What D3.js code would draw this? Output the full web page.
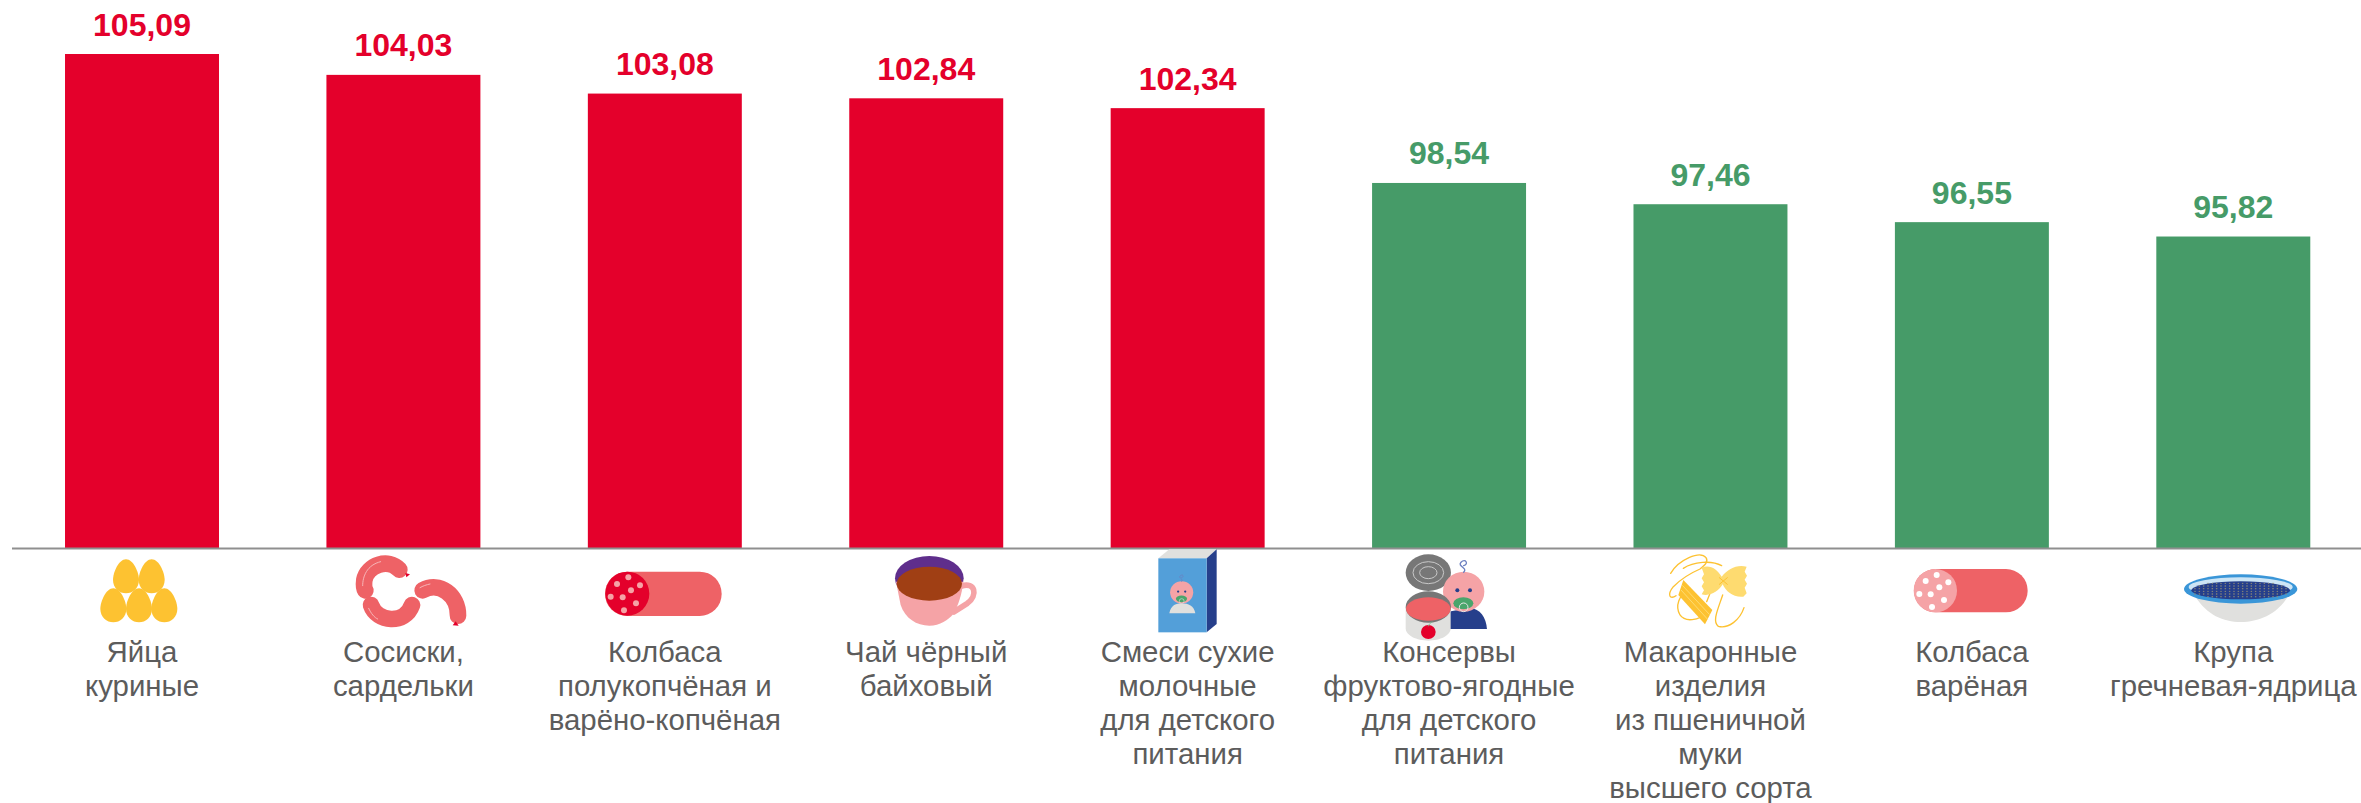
<!DOCTYPE html>
<html>
<head>
<meta charset="utf-8">
<script src="https://cdnjs.cloudflare.com/ajax/libs/d3/7.8.5/d3.min.js"></script>
<style>
html, body { margin: 0; padding: 0; background: #fff; }
svg { display: block; }
text { font-family: "Liberation Sans", Arial, sans-serif; }
</style>
</head>
<body>
<script>
var categories = ["Яйца|куриные", "Сосиски,|сардельки", "Колбаса|полукопчёная и|варёно-копчёная",
    "Чай чёрный|байховый", "Смеси сухие|молочные|для детского|питания",
    "Консервы|фруктово-ягодные|для детского|питания", "Макаронные|изделия|из пшеничной|муки|высшего сорта",
    "Колбаса|варёная", "Крупа|гречневая-ядрица"];
var values = [105.09, 104.03, 103.08, 102.84, 102.34, 98.54, 97.46, 96.55, 95.82];
var valueLabels = ["105,09", "104,03", "103,08", "102,84", "102,34", "98,54", "97,46", "96,55", "95,82"];

var w = 2361;
var h = 803;
var baseline = 548;
var red = "#e4002b", green = "#469b68", pink = "#ee6266", light = "#f5a3a6", grey = "#e0e0de",
    navy = "#263f8b", yellow = "#fdc231", paleYellow = "#fedb70";

var svg = d3.select("body").append("svg").attr("width", w).attr("height", h);

var x = d3.scaleBand().domain(d3.range(values.length)).range([11.3, 2364]).paddingInner(0.411).paddingOuter(0.2055);
var y = d3.scaleLinear().domain([80, 105.09]).range([baseline, 54]);

// bars
svg.selectAll(".bar").data(values).enter().append("rect").attr("class", "bar")
    .attr("x", function (d, i) { return x(i); })
    .attr("y", function (d) { return y(d); })
    .attr("width", x.bandwidth())
    .attr("height", function (d) { return baseline - y(d); })
    .attr("fill", function (d) { return d > 100 ? red : green; });

// axis line only, labels are drawn by hand because they wrap
var xAxis = d3.axisBottom(x).tickSize(0).tickFormat("");
var axisG = svg.append("g").attr("transform", "translate(0," + (baseline + 0.5) + ")").call(xAxis);
axisG.select(".domain").attr("d", "M12,0H2361").attr("stroke", "#8f8f8f").attr("stroke-width", 2);

// value labels
svg.selectAll(".val").data(values).enter().append("text").attr("class", "val")
    .attr("x", function (d, i) { return x(i) + x.bandwidth() / 2; })
    .attr("y", function (d) { return y(d) - 18.5; })
    .attr("text-anchor", "middle").attr("font-size", 32).attr("font-weight", "bold")
    .attr("fill", function (d) { return d > 100 ? red : green; })
    .text(function (d, i) { return valueLabels[i]; });

// category labels
var cat = svg.selectAll(".cat").data(categories).enter().append("text").attr("class", "cat")
    .attr("text-anchor", "middle").attr("font-size", 29.4).attr("fill", "#5c5c5c");
cat.selectAll("tspan").data(function (d, i) {
    return d.split("|").map(function (s, k) { return { s: s, k: k, i: i }; });
}).enter().append("tspan")
    .attr("x", function (d) { return x(d.i) + x.bandwidth() / 2; })
    .attr("y", function (d) { return 662 + d.k * 33.9; })
    .text(function (d) { return d.s; });

// pictograms: each one is traced at 3x, so the group is scaled down to a third
function icon(px, py) {
    return svg.append("g").attr("transform", "translate(" + px + "," + py + ") scale(0.33333)");
}
function ell(g, cx, cy, rx, ry, fill) {
    return g.append("ellipse").attr("cx", cx).attr("cy", cy).attr("rx", rx).attr("ry", ry).attr("fill", fill);
}
function path(g, d, fill) {
    return g.append("path").attr("d", d).attr("fill", fill);
}
function line(g, d, color, width) {
    return g.append("path").attr("d", d).attr("fill", "none").attr("stroke", color)
        .attr("stroke-width", width).attr("stroke-linecap", "round");
}
function baby(g, cx, cy, s, eyeColor) {
    // face, eyes, dummy
    ell(g, cx, cy, 62 * s, 60 * s, light);
    ell(g, cx - 19 * s, cy - 4 * s, 6 * s, 6 * s, eyeColor);
    ell(g, cx + 19 * s, cy - 4 * s, 6 * s, 6 * s, eyeColor);
    ell(g, cx - 1 * s, cy + 35 * s, 30 * s, 18 * s, "#4aa56c");
    g.append("circle").attr("cx", cx).attr("cy", cy + 47 * s).attr("r", 13 * s)
        .attr("fill", "none").attr("stroke", "#e6e6e6").attr("stroke-width", 3 * s);
    line(g, "M" + cx + "," + (cy - 58 * s) + "c" + (14 * s) + "," + (-14 * s) + " " + (-20 * s) + "," + (-18 * s) + " " + (-8 * s) + "," + (-30 * s)
        + "c" + (14 * s) + "," + (-14 * s) + " " + (24 * s) + "," + (6 * s) + " " + (8 * s) + "," + (10 * s), "#6b7fc0", 4 * s);
}

// eggs
var eggG = icon(80, 545);
[[138, 95], [215, 95], [100, 182], [177, 182], [253, 182]].forEach(function (p) {
    path(eggG, "M" + p[0] + "," + (p[1] - 52) + "C" + (p[0] + 22) + "," + (p[1] - 52) + " " + (p[0] + 39) + "," + (p[1] - 12) + " " + (p[0] + 39) + "," + (p[1] + 10)
        + "C" + (p[0] + 39) + "," + (p[1] + 34) + " " + (p[0] + 20) + "," + (p[1] + 50) + " " + p[0] + "," + (p[1] + 50)
        + "C" + (p[0] - 20) + "," + (p[1] + 50) + " " + (p[0] - 39) + "," + (p[1] + 34) + " " + (p[0] - 39) + "," + (p[1] + 10)
        + "C" + (p[0] - 39) + "," + (p[1] - 12) + " " + (p[0] - 22) + "," + (p[1] - 52) + " " + p[0] + "," + (p[1] - 52) + "Z", yellow);
});

// sausages
var sausG = icon(80, 545);
line(sausG, "M958,74C925,38 862,60 853,105C851,120 852,130 856,136", pink, 50);
line(sausG, "M873,180C890,232 975,240 996,180", pink, 50);
line(sausG, "M1028,136C1078,108 1135,150 1134,212", pink, 50);
line(sausG, "M848,122C848,95 860,60 902,50", "#f6b5b7", 3);
line(sausG, "M866,190C873,205 883,218 893,222", "#f6b5b7", 3);
line(sausG, "M1020,128C1028,123 1040,119 1050,117", "#f6b5b7", 3);
path(sausG, "M976,84L990,88L979,97Z", red);
path(sausG, "M1127,229L1136,242L1118,241Z", red);

// salami
var salamiG = icon(590, 555);
salamiG.append("rect").attr("x", 45).attr("y", 50).attr("width", 350).attr("height", 133).attr("rx", 66).attr("fill", pink);
ell(salamiG, 112, 116, 66, 66, red);
[[115, 67], [81, 87], [150, 91], [123, 106], [62, 125], [98, 127], [138, 145], [102, 166]].forEach(function (p) {
    ell(salamiG, p[0], p[1], 9, 9, light);
});

// tea
var cupG = icon(880, 540);
ell(cupG, 148, 115, 103, 67, "#5f2e8c");
line(cupG, "M245,138C285,125 295,165 262,190L222,216", light, 17);
path(cupG, "M48,125L62,195C75,235 110,257 148,257C180,257 205,240 220,222C235,195 245,165 250,125Z", light);
ell(cupG, 148, 131, 98, 51, "#a03f14");

// box of baby food
var boxG = icon(1140, 540);
path(boxG, "M55,55L88,28H230L200,55Z", grey);
path(boxG, "M200,55L230,28V252L200,277Z", navy);
boxG.append("rect").attr("x", 55).attr("y", 55).attr("width", 145).attr("height", 222).attr("fill", "#539fd9");
path(boxG, "M88,220C92,195 110,190 125,190C145,190 162,198 166,220Z", grey);
baby(boxG, 125, 157, 0.56, navy);

// tin and baby
var tinG = icon(1380, 545);
ell(tinG, 145, 83, 68, 55, "#777777");
ell(tinG, 145, 83, 46, 33, "none").attr("stroke", "#c8c8c8").attr("stroke-width", 3);
ell(tinG, 145, 83, 26, 18, "none").attr("stroke", "#c8c8c8").attr("stroke-width", 3);
path(tinG, "M205,252H321C318,215 300,192 270,188L205,200Z", navy);
baby(tinG, 251, 140, 1, navy);
path(tinG, "M77,186V250C77,272 110,287 145,287C180,287 212,272 212,250V186Z", grey);
ell(tinG, 145, 186, 68, 47, "#777777");
ell(tinG, 145, 192, 67, 35, pink);
ell(tinG, 145, 261, 22, 21, red);
line(tinG, "M145,243C147,238 150,234 156,231", "#6fb98a", 2.5);

// pasta
var pastaG = icon(1650, 545);
line(pastaG, "M62,85C85,45 150,15 168,38C176,50 165,60 150,72C120,85 90,105 70,125C50,150 60,165 78,152", yellow, 4);
line(pastaG, "M100,70C130,50 185,45 215,62", yellow, 4);
line(pastaG, "M120,130C85,150 75,185 90,210C105,232 145,228 175,200", yellow, 4);
line(pastaG, "M218,150C205,190 185,230 205,244C235,252 270,225 282,188", yellow, 4);
line(pastaG, "M190,120L170,170", yellow, 4);
path(pastaG, "M155,68C180,58 200,72 215,95C235,72 258,58 290,65L284,80L291,92L284,104L291,116L284,128L290,145L280,155C250,158 228,140 218,118C205,140 180,155 155,148L162,136L155,124L162,112L155,100L162,88Z", paleYellow);
line(pastaG, "M208,98L232,118M232,98L208,118", yellow, 3);
path(pastaG, "M100,105L187,195L165,238L85,150Z", yellow);
[[98, 122, 178, 208], [94, 136, 172, 222]].forEach(function (s) {
    line(pastaG, "M" + s[0] + "," + s[1] + "L" + s[2] + "," + s[3], paleYellow, 3);
});

// second sausage
var boiledG = icon(1900, 555);
boiledG.append("rect").attr("x", 42).attr("y", 42).attr("width", 341).attr("height", 130).attr("rx", 65).attr("fill", pink);
ell(boiledG, 106, 107, 65, 65, light);
[[110, 60], [77, 78], [145, 82], [118, 97], [58, 117], [92, 118], [132, 135], [96, 156]].forEach(function (p) {
    ell(boiledG, p[0], p[1], 9, 9, "#ffffff");
});

// bowl of buckwheat
var bowlG = icon(2170, 560);
path(bowlG, "M75,108C110,165 160,186 212,186C265,186 320,165 355,108Z", grey);
ell(bowlG, 212, 87, 170, 44, "#3a96d8");
ell(bowlG, 212, 81, 156, 29, "#ffffff").attr("opacity", 0.75);
ell(bowlG, 212, 91, 148, 27, navy);
for (var gy = 70; gy <= 112; gy += 8) {
    for (var gx = 75; gx <= 350; gx += 13) {
        var ox = gx + (gy % 16 === 0 ? 6 : 0);
        var t = (ox - 212) / 148, u = (gy - 91) / 27;
        if (t * t + u * u <= 1.05) ell(bowlG, ox, gy, 2.5, 2, "#8a8878");
    }
}
</script>
</body>
</html>
